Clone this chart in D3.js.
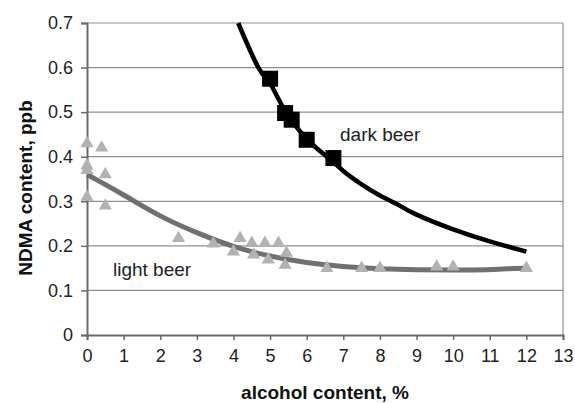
<!DOCTYPE html>
<html><head><meta charset="utf-8">
<script src="https://cdn.jsdelivr.net/npm/d3@7"></script>
<style>body{margin:0;background:#fff}svg{display:block}</style>
</head><body>
<script>
const xTicks = [0,1,2,3,4,5,6,7,8,9,10,11,12,13];
const yTicks = [0,0.1,0.2,0.3,0.4,0.5,0.6,0.7];
const yTickLabels = ["0","0.1","0.2","0.3","0.4","0.5","0.6","0.7"];

// light beer measurements (triangles)
const lightX = [0,0,0,0,0.4,0.5,0.5,2.5,3.45,4.0,4.18,4.5,4.55,4.86,4.95,5.23,5.41,5.45,6.55,7.5,8.0,9.55,10.0,12.0];
const lightY = [0.43,0.38,0.37,0.31,0.42,0.36,0.29,0.217,0.205,0.187,0.217,0.206,0.18,0.206,0.169,0.206,0.157,0.184,0.15,0.15,0.15,0.153,0.153,0.15];
// light beer fitted curve
const lightFitX = [0,1,2,3,4,5,6,7,8,9,10,11,11.5,12];
const lightFitY = [0.36,0.315,0.265,0.229,0.197,0.176,0.162,0.153,0.148,0.146,0.146,0.146,0.149,0.15];

// dark beer measurements (squares)
const darkX = [5.0,5.41,5.59,6.0,6.73];
const darkY = [0.575,0.498,0.483,0.438,0.397];
// dark beer fitted curve
const darkFitX = [4.13,4.68,5,5.36,6,6.6,7,7.5,8,8.5,9,10,11,12];
const darkFitY = [0.70,0.60,0.565,0.51,0.44,0.397,0.368,0.338,0.313,0.292,0.27,0.237,0.21,0.187];

const W = 575, H = 403;
const m = {left:87, right:12, top:23, bottom:68};
const svg = d3.select("body").append("svg").attr("width",W).attr("height",H);
const x = d3.scaleLinear().domain([0,13]).range([m.left, W-m.right]);
const y = d3.scaleLinear().domain([0,0.7]).range([H-m.bottom, m.top]);
const font = "'Liberation Sans', Arial, sans-serif";

// gridlines
svg.append("g").selectAll("line").data(yTicks.filter(d=>d>0)).join("line")
  .attr("x1",x(0)).attr("x2",x(13)).attr("y1",d=>y(d)).attr("y2",d=>y(d))
  .attr("stroke","#8f8f8f").attr("stroke-width",1.2);
// right border
svg.append("line").attr("x1",x(13)).attr("x2",x(13)).attr("y1",y(0)).attr("y2",y(0.7))
  .attr("stroke","#8f8f8f").attr("stroke-width",1.2);

// axes
const xAxis = d3.axisBottom(x).tickValues(xTicks).tickSize(5).tickPadding(9).tickFormat(d3.format("d"));
const gx = svg.append("g").attr("transform",`translate(0,${y(0)})`).call(xAxis);
const yAxis = d3.axisLeft(y).tickValues(yTicks).tickSize(6).tickPadding(8).tickFormat((d,i)=>yTickLabels[i]);
const gy = svg.append("g").attr("transform",`translate(${x(0)},0)`).call(yAxis);
[gx,gy].forEach(g=>{
  g.select(".domain").attr("stroke","#6a6a6a").attr("stroke-width",2);
  g.selectAll(".tick line").attr("stroke","#6a6a6a").attr("stroke-width",1.5);
  g.selectAll("text").attr("font-family",font).attr("font-size",18).attr("fill","#222");
});

const line = d3.line().x(d=>x(d[0])).y(d=>y(d[1])).curve(d3.curveBasis);

// light beer curve
svg.append("path").datum(lightFitX.map((v,i)=>[v,lightFitY[i]]))
  .attr("d",line).attr("fill","none").attr("stroke","#707070").attr("stroke-width",5);
// light triangles
const tri = d3.symbol().type(d3.symbolTriangle).size(75);
svg.append("g").selectAll("path").data(lightX.map((v,i)=>[v,lightY[i]])).join("path")
  .attr("d",tri).attr("transform",d=>`translate(${x(d[0])},${y(d[1])})`)
  .attr("fill","#b2b2b2");

// dark curve
svg.append("path").datum(darkFitX.map((v,i)=>[v,darkFitY[i]]))
  .attr("d",d3.line().x(d=>x(d[0])).y(d=>y(d[1])).curve(d3.curveNatural))
  .attr("fill","none").attr("stroke","#000").attr("stroke-width",4.5);
// squares
svg.append("g").selectAll("rect").data(darkX.map((v,i)=>[v,darkY[i]])).join("rect")
  .attr("x",d=>x(d[0])-8).attr("y",d=>y(d[1])-8).attr("width",16).attr("height",16)
  .attr("fill","#000");

// labels
svg.append("text").attr("x",x(6.91)).attr("y",y(0.435)).text("dark beer")
  .attr("font-family",font).attr("font-size",19).attr("fill","#222");
svg.append("text").attr("x",x(0.71)).attr("y",y(0.133)).text("light beer")
  .attr("font-family",font).attr("font-size",19).attr("fill","#222");

// axis titles
svg.append("text").attr("x",(x(0)+x(13))/2).attr("y",399).attr("text-anchor","middle")
  .text("alcohol content, %").attr("font-family",font).attr("font-size",19).attr("font-weight","bold").attr("fill","#111");
svg.append("text").attr("transform",`translate(32,188) rotate(-90)`).attr("text-anchor","middle")
  .text("NDMA content, ppb").attr("font-family",font).attr("font-size",19).attr("font-weight","bold").attr("fill","#111");
</script>
</body></html>
